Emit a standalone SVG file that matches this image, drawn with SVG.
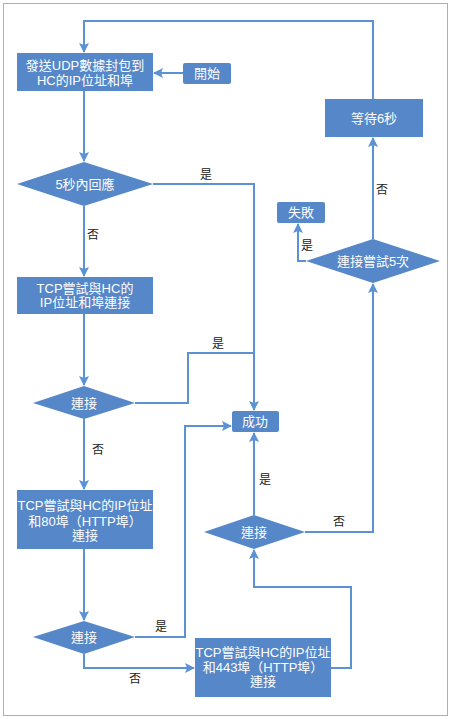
<svg xmlns="http://www.w3.org/2000/svg" width="450" height="719" viewBox="0 0 450 719">
<defs>
<style>
.n{fill:#5687C8;stroke:none}
.t{font-family:"Liberation Sans","Noto Sans CJK TC",sans-serif;font-size:13px;fill:#ffffff;text-anchor:middle}
.l{font-family:"Liberation Sans","Noto Sans CJK TC",sans-serif;font-size:12px;fill:#222222;text-anchor:middle}
.c{fill:none;stroke:#5B92D4;stroke-width:2}
</style>
<marker id="a" viewBox="0 0 10 10" refX="9" refY="5" markerWidth="5" markerHeight="5" orient="auto" markerUnits="strokeWidth">
<path d="M0,0 L10,5 L0,10 L2,5 Z" fill="#5B92D4"/>
</marker>
</defs>
<rect x="3.5" y="3.5" width="444" height="712" fill="#ffffff" stroke="#b0b0b0" stroke-width="1"/>
<g id="connectors">
<path class="c" d="M373,99 V21 H84 V52" marker-end="url(#a)"/>
<path class="c" d="M183,73 H154" marker-end="url(#a)"/>
<path class="c" d="M84,91 V161" marker-end="url(#a)"/>
<path class="c" d="M153,184 H254 V410" marker-end="url(#a)"/>
<path class="c" d="M84,206 V276" marker-end="url(#a)"/>
<path class="c" d="M84,314 V385" marker-end="url(#a)"/>
<path class="c" d="M135,403 H188 V353 H254"/>
<path class="c" d="M84,419 V489" marker-end="url(#a)"/>
<path class="c" d="M84,549 V620" marker-end="url(#a)"/>
<path class="c" d="M135,637 H185 V426 H231" marker-end="url(#a)"/>
<path class="c" d="M84,654 V668 H194" marker-end="url(#a)"/>
<path class="c" d="M331,668 H351 V587 H254 V550" marker-end="url(#a)"/>
<path class="c" d="M254,515 V433" marker-end="url(#a)"/>
<path class="c" d="M305,532 H373 V284" marker-end="url(#a)"/>
<path class="c" d="M373,239 V138" marker-end="url(#a)"/>
<path class="c" d="M306,261 H298 V224" marker-end="url(#a)"/>
<text class="l" x="206" y="179">是</text>
<text class="l" x="93" y="239">否</text>
<text class="l" x="218" y="348">是</text>
<text class="l" x="98" y="454">否</text>
<text class="l" x="161" y="631">是</text>
<text class="l" x="135" y="683">否</text>
<text class="l" x="265" y="484">是</text>
<text class="l" x="339" y="526">否</text>
<text class="l" x="382" y="194">否</text>
<text class="l" x="307" y="250">是</text>
</g>
<g id="udp">
<rect class="n" x="17" y="53" width="136" height="38"/>
<text class="t" x="85" y="70">發送UDP數據封包到</text>
<text class="t" x="85" y="85">HC的IP位址和埠</text>
</g>
<g id="start">
<rect class="n" x="183" y="63" width="48" height="21" rx="2"/>
<text class="t" x="207" y="78">開始</text>
</g>
<g id="wait">
<rect class="n" x="325" y="99" width="98" height="38"/>
<text class="t" x="374" y="123">等待6秒</text>
</g>
<g id="reply5">
<polygon class="n" points="17,184 84,162 153,184 84,206"/>
<text class="t" x="85" y="189">5秒內回應</text>
</g>
<g id="fail">
<rect class="n" x="277" y="202" width="48" height="21" rx="2"/>
<text class="t" x="301" y="217">失敗</text>
</g>
<g id="try5">
<polygon class="n" points="306,261 373,239 440,261 373,283"/>
<text class="t" x="373" y="266">連接嘗試5次</text>
</g>
<g id="tcp1">
<rect class="n" x="17" y="277" width="136" height="37"/>
<text class="t" x="85" y="293">TCP嘗試與HC的</text>
<text class="t" x="85" y="307">IP位址和埠連接</text>
</g>
<g id="conn1">
<polygon class="n" points="33,403 84,386 135,403 84,419"/>
<text class="t" x="84" y="408">連接</text>
</g>
<g id="success">
<rect class="n" x="232" y="411" width="47" height="21" rx="2"/>
<text class="t" x="255" y="426">成功</text>
</g>
<g id="tcp80">
<rect class="n" x="17" y="490" width="136" height="59"/>
<text class="t" x="85" y="510">TCP嘗試與HC的IP位址</text>
<text class="t" x="85" y="526">和80埠（HTTP埠）</text>
<text class="t" x="85" y="540">連接</text>
</g>
<g id="conn4">
<polygon class="n" points="204,532 254,515 305,532 254,549"/>
<text class="t" x="254" y="537">連接</text>
</g>
<g id="conn3">
<polygon class="n" points="33,637 84,621 135,637 84,654"/>
<text class="t" x="84" y="642">連接</text>
</g>
<g id="tcp443">
<rect class="n" x="195" y="638" width="136" height="59"/>
<text class="t" x="263" y="657">TCP嘗試與HC的IP位址</text>
<text class="t" x="263" y="672">和443埠（HTTP埠）</text>
<text class="t" x="263" y="686">連接</text>
</g>
</svg>
